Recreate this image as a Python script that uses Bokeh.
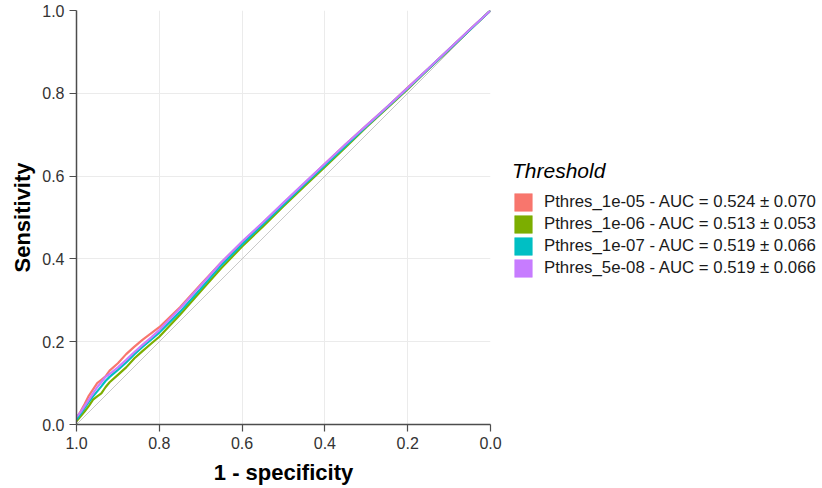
from bokeh.plotting import figure
from bokeh.models import Range1d, FixedTicker, Legend, LegendItem
from bokeh.embed import file_html
from bokeh.resources import INLINE

# ---- data ----
fpr = [0, .01, .02, .03, .04, .05, .06, .07, .08, .10, .12, .14, .16, .18, .20,
       .25, .30, .35, .40, .45, .50, .55, .60, .65, .70, .75, .80, .85, .90, .95, 1.0]
specificity = [round(1 - f, 3) for f in fpr]

sens_1e05 = [.015, .032, .05, .07, .085, .10, .108, .116, .13, .148, .17, .188, .205, .22, .235,
             .283, .338, .392, .44, .487, .535, .582, .63, .677, .722, .767, .814, .86, .907, .954, 1.0]
sens_1e06 = [.008, .02, .032, .045, .06, .068, .075, .09, .102, .12, .138, .16, .178, .195, .212,
             .265, .322, .378, .43, .478, .527, .575, .622, .67, .718, .764, .81, .858, .905, .953, 1.0]
sens_1e07 = [.012, .026, .04, .055, .068, .08, .092, .105, .115, .132, .15, .17, .188, .205, .222,
             .272, .328, .385, .435, .483, .531, .579, .626, .673, .72, .766, .812, .859, .906, .953, 1.0]
sens_5e08 = [.018, .03, .045, .06, .075, .09, .102, .115, .122, .138, .156, .175, .193, .21, .228,
             .28, .336, .392, .442, .488, .536, .583, .63, .677, .722, .767, .813, .86, .907, .954, 1.0]

series_names = ["Pthres_1e-05 - AUC = 0.524 \u00b1 0.070",
                "Pthres_1e-06 - AUC = 0.513 \u00b1 0.053",
                "Pthres_1e-07 - AUC = 0.519 \u00b1 0.066",
                "Pthres_5e-08 - AUC = 0.519 \u00b1 0.066"]
series_values = [sens_1e05, sens_1e06, sens_1e07, sens_5e08]
colors = ["#F8766D", "#7CAE00", "#00BFC4", "#C77CFF"]
ticks = [0.0, 0.2, 0.4, 0.6, 0.8, 1.0]
tick_labels = {0.0: "0.0", 0.2: "0.2", 0.4: "0.4", 0.6: "0.6", 0.8: "0.8", 1.0: "1.0"}

FONT = "Liberation Sans"
NAN = float("nan")

p = figure(frame_width=414, frame_height=414,
           min_border_left=76, min_border_right=315, min_border_top=10, min_border_bottom=50,
           x_range=Range1d(1, 0), y_range=Range1d(0, 1),
           output_backend="svg", toolbar_location=None)
p.outline_line_color = None
p.background_fill_color = "white"

# diagonal reference
p.line([1, 0], [0, 1], line_color="#C8C8C8", line_width=1)

for vals, c in zip(series_values, colors):
    p.line(specificity, vals, line_color=c, line_width=2.2)

# legend with square keys (invisible NaN quads serve as legend glyphs)
items = []
for name, c in zip(series_names, colors):
    r = p.quad(left=[NAN], right=[NAN], bottom=[NAN], top=[NAN],
               fill_color=c, line_color=c, line_alpha=0.5)
    items.append(LegendItem(label=name, renderers=[r]))

legend = Legend(items=items, location=(22, 145),
                title="Threshold", title_text_font=FONT, title_text_font_size="21px",
                title_text_font_style="italic", title_text_color="black", title_standoff=8,
                label_text_font=FONT, label_text_font_size="16.8px", label_text_color="#1A1A1A",
                glyph_width=22, glyph_height=22, label_height=22, spacing=0, label_standoff=10,
                padding=0, margin=0, border_line_color=None, background_fill_alpha=0)
p.add_layout(legend, "right")

for ax in (p.xaxis, p.yaxis):
    ax.ticker = FixedTicker(ticks=ticks)
    ax.axis_line_color = "#4D4D4D"
    ax.axis_line_width = 1.5
    ax.major_tick_line_color = "#4D4D4D"
    ax.major_tick_line_width = 1.2
    ax.major_tick_out = 7
    ax.major_tick_in = 0
    ax.minor_tick_line_color = None
    ax.major_label_text_font = FONT
    ax.major_label_text_font_size = "16px"
    ax.major_label_text_color = "#333333"
    ax.major_label_overrides = tick_labels
    ax.axis_label_text_font = FONT
    ax.axis_label_text_font_size = "22px"
    ax.axis_label_text_font_style = "bold"
    ax.axis_label_text_color = "black"

p.xaxis.axis_label = "1 - specificity"
p.yaxis.axis_label = "Sensitivity"
p.xaxis.major_label_standoff = 5
p.yaxis.major_label_standoff = 5
p.xaxis.axis_label_standoff = 8
p.yaxis.axis_label_standoff = 4

for g in (p.xgrid, p.ygrid):
    g.ticker = FixedTicker(ticks=ticks)
    g.grid_line_color = "#EBEBEB"
    g.grid_line_width = 1

open("out.html", "w").write(file_html(p, INLINE))
